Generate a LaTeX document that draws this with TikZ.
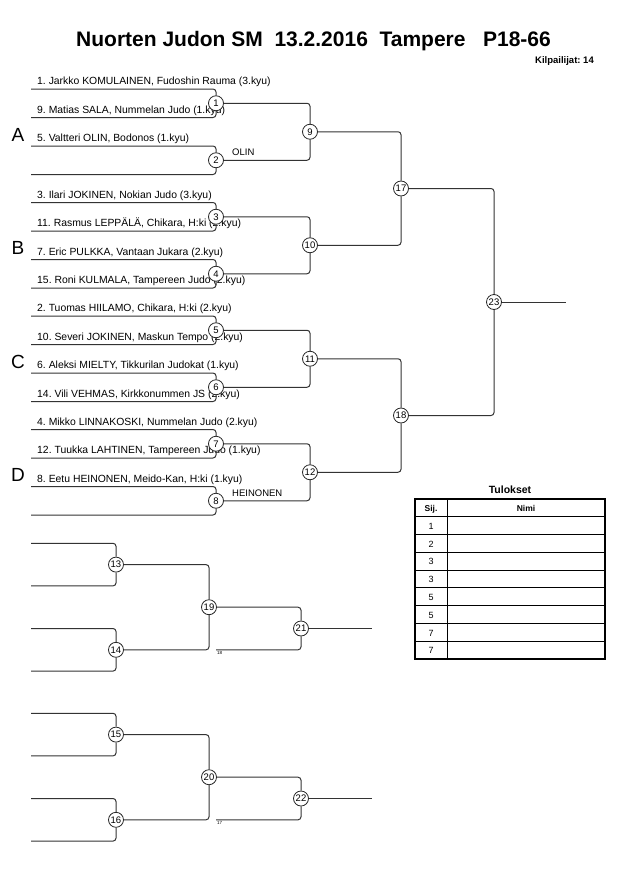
\documentclass[tikz,border=0pt]{standalone}
\usepackage{fontspec}
\setmainfont{Liberation Sans}
\usetikzlibrary{calc, positioning}
\frenchspacing

\tikzset{
  match/.style={circle, draw=black!85, line width=0.8pt, fill=white, minimum size=15pt, inner sep=0pt, font=\fontsize{9.5}{10}\selectfont},
  wire/.style={line width=1pt, black!80, rounded corners=3pt},
  player/.style={anchor=base west, inner sep=0pt, font=\fontsize{10.4}{12}\selectfont},
  pool/.style={anchor=base, inner sep=0pt, font=\fontsize{19}{20}\selectfont},
  winner/.style={anchor=base west, inner sep=0pt, font=\fontsize{9.5}{11}\selectfont},
  tiny/.style={anchor=north west, inner sep=0pt, font=\fontsize{4.5}{5}\selectfont},
}

\begin{document}
\begin{tikzpicture}[x=1pt, y=-1pt]
    \useasboundingbox (0,0) rectangle (630,891);

    % Title
    \node[anchor=base west, inner sep=0pt, font=\bfseries\fontsize{21}{24}\selectfont] (title) at (76,47)
        {Nuorten Judon SM\ \ 13.2.2016\ \ Tampere\ \ \ P18-66};
    \node[anchor=base east, inner sep=0pt, font=\bfseries\fontsize{9.5}{11}\selectfont] (count) at (594,63.5) {Kilpailijat: 14};

    % Pool letters
    \node[pool] (poolA) at (18,141) {A};
    \node[pool] (poolB) at (18,254.5) {B};
    \node[pool] (poolC) at (18,368) {C};
    \node[pool] (poolD) at (18,481.5) {D};

    % Player names
    \node[player] (n1)  at (37,84.5)  {1. Jarkko KOMULAINEN, Fudoshin Rauma (3.kyu)};
    \node[player] (n2)  at (37,113)   {9. Matias SALA, Nummelan Judo (1.kyu)};
    \node[player] (n3)  at (37,141.5) {5. Valtteri OLIN, Bodonos (1.kyu)};
    \node[player] (n5)  at (37,198)   {3. Ilari JOKINEN, Nokian Judo (3.kyu)};
    \node[player] (n6)  at (37,226.5) {11. Rasmus LEPPÄLÄ, Chikara, H:ki (2.kyu)};
    \node[player] (n7)  at (37,255)   {7. Eric PULKKA, Vantaan Jukara (2.kyu)};
    \node[player] (n8)  at (37,283.5) {15. Roni KULMALA, Tampereen Judo (2.kyu)};
    \node[player] (n9)  at (37,311.5) {2. Tuomas HIILAMO, Chikara, H:ki (2.kyu)};
    \node[player] (n10) at (37,340)   {10. Severi JOKINEN, Maskun Tempo (2.kyu)};
    \node[player] (n11) at (37,368.5) {6. Aleksi MIELTY, Tikkurilan Judokat (1.kyu)};
    \node[player] (n12) at (37,397)   {14. Vili VEHMAS, Kirkkonummen JS (2.kyu)};
    \node[player] (n13) at (37,425)   {4. Mikko LINNAKOSKI, Nummelan Judo (2.kyu)};
    \node[player] (n14) at (37,453.5) {12. Tuukka LAHTINEN, Tampereen Judo (1.kyu)};
    \node[player] (n15) at (37,482)   {8. Eetu HEINONEN, Meido-Kan, H:ki (1.kyu)};

    % Main draw: line ends and matches
    \foreach \k in {0,...,3} {
        \pgfmathsetmacro\b{89+113.5*\k}
        \foreach \i in {0,...,3} {
            \pgfmathtruncatemacro\n{4*\k+\i+1}
            \coordinate (p\n) at (31,{\b+28.5*\i});
        }
        \pgfmathtruncatemacro\u{2*\k+1}
        \pgfmathtruncatemacro\v{2*\k+2}
        \pgfmathtruncatemacro\w{9+\k}
        \node[match] (m\u) at (216,{\b+14.25}) {\u};
        \node[match] (m\v) at (216,{\b+71.25}) {\v};
        \node[match] (m\w) at (310,{\b+42.75}) {\w};
    }
    \node[match] (m17) at (401,188.5) {17};
    \node[match] (m18) at (401,415.5) {18};
    \node[match] (m23) at (494,302) {23};
    \coordinate (o23) at (566,302);

    % First round
    \foreach \n in {1,...,16} {
        \pgfmathtruncatemacro\m{(\n+1)/2}
        \draw[wire] (p\n) -| (m\m);
    }
    % Second round
    \foreach \a/\b in {1/9, 2/9, 3/10, 4/10, 5/11, 6/11, 7/12, 8/12, 9/17, 10/17, 11/18, 12/18, 17/23, 18/23}
        \draw[wire] (m\a) -| (m\b);
    \draw[wire] (m23) -- (o23);

    % Winners by bye
    \node[winner] (w2) at ($(m2)+(16,-4.5)$) {OLIN};
    \node[winner] (w8) at ($(m8)+(16,-4.5)$) {HEINONEN};

    % Repechage
    \foreach \k/\top/\mid/\fin/\from in {0/13/19/21/18, 1/15/20/22/17} {
        \pgfmathsetmacro\c{543.3+170*\k}
        \pgfmathtruncatemacro\bot{\top+1}
        \foreach \i in {0,...,3} {
            \pgfmathtruncatemacro\n{4*\k+\i+1}
            \coordinate (r\n) at (31,{\c+42.6*\i});
        }
        \node[match] (m\top) at (116,{\c+21.3}) {\top};
        \node[match] (m\bot) at (116,{\c+106.5}) {\bot};
        \node[match] (m\mid) at (209,{\c+63.9}) {\mid};
        \node[match] (m\fin) at (301,{\c+85.2}) {\fin};
        \coordinate (c\from) at (216,{\c+106.5});
        \coordinate (o\fin) at (372,{\c+85.2});
        \node[tiny] (t\from) at ($(c\from)+(1,1.5)$) {\from};
        \pgfmathtruncatemacro\ra{4*\k+1}
        \pgfmathtruncatemacro\rb{4*\k+2}
        \pgfmathtruncatemacro\rc{4*\k+3}
        \pgfmathtruncatemacro\rd{4*\k+4}
        \draw[wire] (r\ra) -| (m\top);
        \draw[wire] (r\rb) -| (m\top);
        \draw[wire] (r\rc) -| (m\bot);
        \draw[wire] (r\rd) -| (m\bot);
        \draw[wire] (m\top) -| (m\mid);
        \draw[wire] (m\bot) -| (m\mid);
        \draw[wire] (m\mid) -| (m\fin);
        \draw[wire] (c\from) -| (m\fin);
        \draw[wire] (m\fin) -- (o\fin);
    }

    % Results table
    \node[anchor=base, inner sep=0pt, font=\bfseries\fontsize{10.5}{12}\selectfont] (results) at (510,493) {Tulokset};
    \draw[line width=1.6pt] (415,499) rectangle (605,659);
    \draw[line width=1.3pt] (415,516.5) -- (605,516.5);
    \foreach \r in {1,...,7}
        \draw[line width=0.8pt] (415,{516.5+17.8*\r}) -- (605,{516.5+17.8*\r});
    \draw[line width=0.8pt] (447,499) -- (447,659);
    \node[anchor=base, inner sep=0pt, font=\bfseries\fontsize{8.5}{10}\selectfont] (sij) at (431,511) {Sij.};
    \node[anchor=base, inner sep=0pt, font=\bfseries\fontsize{8.5}{10}\selectfont] (nimi) at (526,511) {Nimi};
    \foreach \s [count=\r] in {1,2,3,3,5,5,7,7}
        \node[anchor=base, inner sep=0pt, font=\fontsize{9}{10}\selectfont] (rank\r) at (431,{516.5+17.8*\r-5}) {\s};
\end{tikzpicture}
\end{document}
